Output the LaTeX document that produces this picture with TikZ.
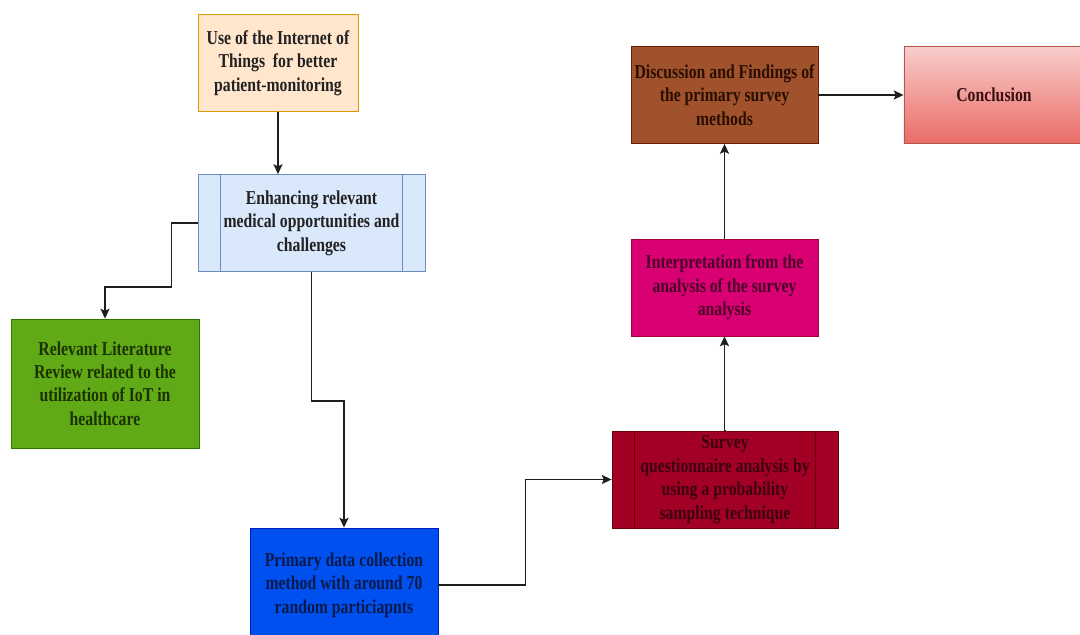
\documentclass[tikz,border=0pt]{standalone}
\usepackage{fontspec}
\setmainfont{Liberation Serif}[FakeStretch=0.8]
\usetikzlibrary{arrows.meta}

\definecolor{useFill}{HTML}{FFE6CC}
\definecolor{useLine}{HTML}{D79B00}
\definecolor{enhFill}{HTML}{DAE8FC}
\definecolor{enhLine}{HTML}{6C8EBF}
\definecolor{litFill}{HTML}{60A917}
\definecolor{litLine}{HTML}{2D7600}
\definecolor{litText}{HTML}{1B3300}
\definecolor{primFill}{HTML}{0050EF}
\definecolor{primLine}{HTML}{001DBC}
\definecolor{primText}{HTML}{0A1A4A}
\definecolor{survFill}{HTML}{A20025}
\definecolor{survLine}{HTML}{6F0000}
\definecolor{survText}{HTML}{3D0010}
\definecolor{intFill}{HTML}{D80073}
\definecolor{intLine}{HTML}{A50040}
\definecolor{intText}{HTML}{4A0028}
\definecolor{discFill}{HTML}{A0522D}
\definecolor{discLine}{HTML}{6D1F00}
\definecolor{discText}{HTML}{2A0E00}
\definecolor{conTop}{HTML}{F8CECC}
\definecolor{conBot}{HTML}{EA6B66}
\definecolor{conLine}{HTML}{B85450}
\definecolor{conText}{HTML}{3A1010}
\definecolor{darkText}{HTML}{222222}
\definecolor{arrGray}{HTML}{1E1E1E}

\begin{document}
\begin{tikzpicture}[x=0.025cm, y=-0.025cm,
    box/.style={rectangle, draw, line width=0.6pt, inner sep=0pt, align=center,
        font=\bfseries\fontsize{14}{16.7}\selectfont},
    arr/.style={draw=arrGray, line width=0.9pt, -{Stealth[length=7pt, width=6.5pt, inset=1.5pt]}}
]
    \useasboundingbox (0,0) rectangle (1080,635);

    % Left column
    \node[box, fill=useFill, draw=useLine, text=darkText, minimum width=4cm, minimum height=2.425cm]
        (use) at (278,63) {Use of the Internet of\\Things\ \ for better\\patient-monitoring};
    \node[box, fill=enhFill, draw=enhLine, text=darkText, minimum width=5.675cm, minimum height=2.425cm]
        (enh) at (311.5,223) {Enhancing relevant\\medical opportunities and\\challenges};
    \node[box, fill=litFill, draw=litLine, text=litText, minimum width=4.7cm, minimum height=3.225cm]
        (lit) at (105,383.5) {Relevant Literature\\Review related to the\\utilization of IoT in\\healthcare};
    \node[box, fill=primFill, draw=primLine, text=primText, minimum width=4.7cm, minimum height=2.85cm]
        (prim) at (344,585) {Primary data collection\\method with around 70\\random particiapnts};

    % Right column
    \node[box, fill=survFill, draw=survLine, text=survText, minimum width=5.65cm, minimum height=2.425cm]
        (survey) at (725,479.5) {Survey\\questionnaire analysis by\\using a probability\\sampling technique};
    \node[box, fill=intFill, draw=intLine, text=intText, minimum width=4.675cm, minimum height=2.425cm]
        (interp) at (724.5,287.5) {Interpretation from the\\analysis of the survey\\analysis};
    \node[box, fill=discFill, draw=discLine, text=discText, minimum width=4.675cm, minimum height=2.425cm]
        (disc) at (724.5,95) {Discussion and Findings of\\the primary survey\\methods};
    \node[box, top color=conTop, bottom color=conBot, draw=conLine, text=conText, minimum width=4.5cm, minimum height=2.425cm]
        (concl) at (994,95) {Conclusion};

    % Process bars
    \foreach \n/\c in {enh/enhLine, survey/survLine} {
        \draw[\c, line width=0.6pt] ([xshift=0.575cm]\n.north west) -- ([xshift=0.575cm]\n.south west);
        \draw[\c, line width=0.6pt] ([xshift=-0.575cm]\n.north east) -- ([xshift=-0.575cm]\n.south east);
    }

    % Connections
    \draw[arr] (use.south) -- (use.south |- enh.north);
    \draw[arr] (enh.west) -- ++(-26,0) -- ++(0,64) -| (lit.north);
    \draw[arr] (enh.south) -- ++(0,129) -| (prim.north);
    \draw[arr] (prim.east) -- ++(87,0) |- (survey.west);
    \draw[arr] (survey.north) -- (survey.north -| interp.south) -- (interp.south);
    \draw[arr] (interp.north) -- (disc.south);
    \draw[arr] (disc.east) -- (concl.west);
\end{tikzpicture}
\end{document}
